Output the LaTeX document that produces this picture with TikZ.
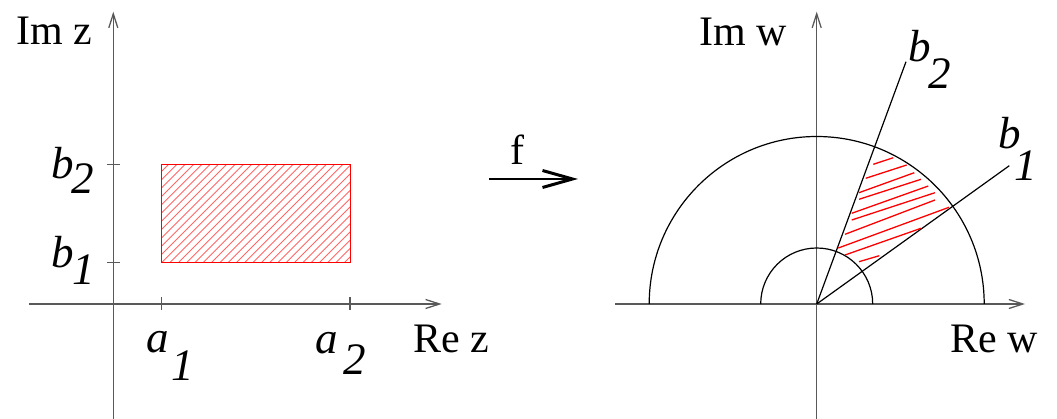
\documentclass[tikz,border=0pt]{standalone}
\usepackage{fontspec}
\setmainfont{Liberation Serif}
\usetikzlibrary{arrows.meta}
\begin{document}
\begin{tikzpicture}[x=1pt,y=-1pt,
  axisline/.style={draw=black!65, line width=1.3pt, -{Straight Barb[length=14pt,width=9pt]}},
  tick/.style={draw=black!65, line width=1.3pt},
  curve/.style={draw=black, line width=1.2pt},
  hatchz/.style={draw=red!60, line width=0.9pt},
  hatchw/.style={draw=red, line width=1.3pt},
  lbl/.style={inner sep=0pt, anchor=base west, font=\fontsize{42}{48}\selectfont},
  ilbl/.style={inner sep=0pt, anchor=base west, font=\fontsize{45}{52}\selectfont\itshape}]
\useasboundingbox (0,0) rectangle (1057,419);

% ---------- left plane ----------
\coordinate (zyb) at (113.3,419);
\coordinate (zyt) at (113.3,11.7);
\coordinate (zxl) at (29.3,304);
\coordinate (zxr) at (441.7,304);
\draw[axisline] (zyb) -- (zyt);
\draw[axisline] (zxl) -- (zxr);
\draw[tick] (107,164.3) -- (119.5,164.3);
\draw[tick] (107,262.3) -- (119.5,262.3);
\draw[tick] (161.7,297.5) -- (161.7,310.5);
\draw[tick] (350,297.5) -- (350,310.5);

\begin{scope}
  \clip (161.7,164.3) rectangle (350,262.3);
  \foreach \k in {-1,...,34}{
    \draw[hatchz] (70.7+\k*8.3,262.3) -- ++(98,-98);
  }
\end{scope}
\draw[red, line width=1pt] (161.7,164.3) rectangle (350,262.3);

\node[lbl] (imz) at (16,45) {Im z};
\node[lbl] (rez) at (413,352.7) {Re z};
\node[ilbl] (zb2) at (51.7,178.3) {b};
\node[ilbl] (zb2s) at (71,193.3) {2};
\node[ilbl] (zb1) at (51.7,268) {b};
\node[ilbl] (zb1s) at (72,284.5) {1};
\node[ilbl] (za1) at (146.7,352.7) {a};
\node[ilbl] (za1s) at (171.5,381) {1};
\node[ilbl] (za2) at (315,353.3) {a};
\node[ilbl] (za2s) at (343.3,374) {2};

% ---------- map arrow ----------
\coordinate (fa) at (489.3,179);
\coordinate (fb) at (578,179);
\draw[line width=1.2pt, -{Straight Barb[length=30pt,width=17pt,line width=3pt]}] (fa) -- (fb);
\node[lbl] (f) at (510,164.3) {f};

% ---------- right plane ----------
\coordinate (ow) at (816.7,304);
\coordinate (wyb) at (816.7,419);
\coordinate (wyt) at (816.7,11.7);
\coordinate (wxl) at (615,304);
\coordinate (wxr) at (1025,304);
\draw[axisline] (wyb) -- (wyt);
\draw[axisline] (wxl) -- (wxr);

\draw[curve] (ow) ++(167.5,0) arc[start angle=0, end angle=-180, radius=167.5];
\draw[curve] (ow) ++(56,0) arc[start angle=0, end angle=-180, radius=56];

\coordinate (rb2) at (906,61.7);
\coordinate (rb1) at (1009.3,165.7);
\draw[curve] (ow) -- (rb2);
\draw[curve] (ow) -- (rb1);

\draw[hatchw] (873.3,164.3) -- (893.3,157.7);
\draw[hatchw] (865.7,178.3) -- (906.7,165);
\draw[hatchw] (859,192.7) -- (914.3,172.7);
\draw[hatchw] (859,199.3) -- (921,179.3);
\draw[hatchw] (851.7,213.3) -- (928.3,186);
\draw[hatchw] (851.7,220) -- (935,192.7);
\draw[hatchw] (845,234.3) -- (935,200);
\draw[hatchw] (838.3,248) -- (949,207.3);
\draw[hatchw] (845,255) -- (921,228.3);
\draw[hatchw] (859,261.7) -- (879.3,255.7);

\node[lbl] (imw) at (699,45.7) {Im w};
\node[lbl] (rew) at (950,352.7) {Re w};
\node[ilbl] (wb2) at (908,61.7) {b};
\node[ilbl] (wb2s) at (928.3,88.3) {2};
\node[ilbl] (wb1) at (998,148.5) {b};
\node[ilbl] (wb1s) at (1014,181) {1};
\end{tikzpicture}
\end{document}
